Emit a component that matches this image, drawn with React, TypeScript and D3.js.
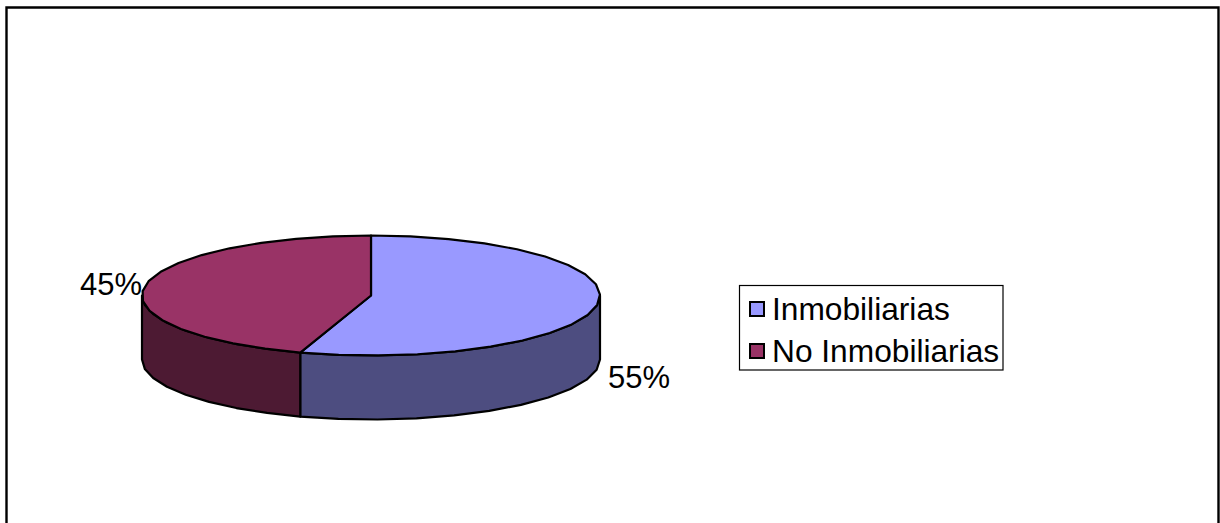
import * as d3 from "d3";

const categories = ["Inmobiliarias", "No Inmobiliarias"];
const values = [55, 45];
const labels = ["55%", "45%"];
const topColors = ["#9999ff", "#993366"];
const sideColors = ["#4d4d80", "#4d1a33"];

const width = 1220;
const height = 523;
const cx = 371;
const cy = 295.5;
const rx = 229;
const ry = 60;
const depth = 64;
const font = "'Liberation Sans', Arial, sans-serif";

const x = d3.scaleLinear().domain([-1, 1]).range([cx - rx, cx + rx]);
const y = d3.scaleLinear().domain([-1, 1]).range([cy - ry, cy + ry]);

const pie = d3
  .pie<number>()
  .sort(null)
  .value((d) => d);
const slices = pie(values);

// rim of the disc is a coarse polygon, like the old office charts
const rim = (a0: number, a1: number, dy = 0): [number, number][] => {
  const n = Math.max(2, Math.ceil((a1 - a0) / (Math.PI / 18)));
  return d3.range(n + 1).map((i) => {
    const a = a0 + ((a1 - a0) * i) / n;
    return [x(Math.sin(a)), y(-Math.cos(a)) + dy];
  });
};

const line = d3.line();

const topPath = (a0: number, a1: number) =>
  line([[x(0), y(0)], ...rim(a0, a1)])! + "Z";

const sidePath = (a0: number, a1: number) => {
  const lo = Math.max(a0, Math.PI / 2);
  const hi = Math.min(a1, (3 * Math.PI) / 2);
  if (hi <= lo) return null;
  return line([...rim(lo, hi), ...rim(lo, hi, depth).reverse()])! + "Z";
};

const legendRows = d3.scaleOrdinal<string, number>().domain(categories).range([309, 351]);

export default function App() {
  return (
    <svg
      width={width}
      height={height}
      style={{ position: "absolute", left: 0, top: 0, display: "block" }}
      fontFamily={font}
    >
      <rect width={width} height={height} fill="#fff" />
      <path d="M6.5,535V7.5H1218.5V535" fill="none" stroke="#000" strokeWidth={2.4} />

      {slices.map((s, i) => {
        const d = sidePath(s.startAngle, s.endAngle);
        return d ? (
          <path key={i} d={d} fill={sideColors[i]} stroke="#000" strokeWidth={2.2} strokeLinejoin="round" />
        ) : null;
      })}
      {slices.map((s, i) => (
        <path
          key={i}
          d={topPath(s.startAngle, s.endAngle)}
          fill={topColors[i]}
          stroke="#000"
          strokeWidth={2.2}
          strokeLinejoin="round"
        />
      ))}

      <text x={608} y={388} fontSize={31} fill="#000">{labels[0]}</text>
      <text x={80} y={295} fontSize={31} fill="#000">{labels[1]}</text>

      <rect x={739.5} y={285.5} width={263.5} height={84.5} fill="#fff" stroke="#000" strokeWidth={1.2} />
      {categories.map((c, i) => (
        <g key={c}>
          <rect
            x={750}
            y={legendRows(c) - 7}
            width={14}
            height={14}
            fill={topColors[i]}
            stroke="#000"
            strokeWidth={2}
          />
          <text x={772} y={legendRows(c) + 11} fontSize={31.7} fill="#000">{c}</text>
        </g>
      ))}
    </svg>
  );
}
